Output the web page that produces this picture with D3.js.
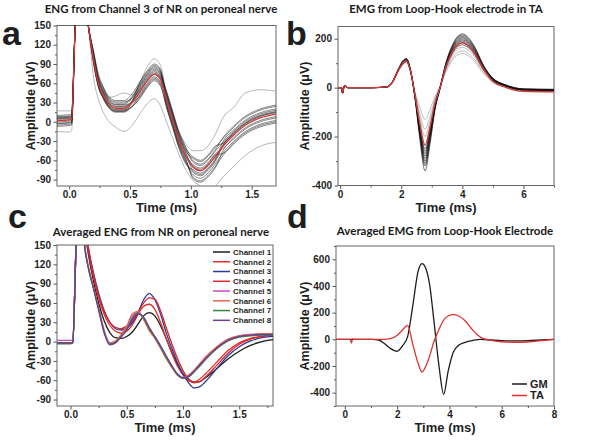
<!DOCTYPE html>
<html>
<head>
<meta charset="utf-8">
<script src="https://cdnjs.cloudflare.com/ajax/libs/d3/7.8.5/d3.min.js"></script>
<style>
  body { margin: 0; background: #fff; }
  svg text { font-family: "Liberation Sans", Arial, sans-serif; font-weight: bold; fill: #1e1e1e; }
  svg text.title { font-family: Lato, "Open Sans", sans-serif; font-size: 11.5px; font-weight: bold; fill: #1a1a1a; }
</style>
</head>
<body>
<svg id="fig" width="600" height="445"></svg>
<script>
// ---- panel a: single sweeps of channel 3 (ms, uV) ----
var timeA = [-0.1,0.0,0.02,0.05,0.1,0.157,0.2,0.24,0.28,0.32,0.38,0.45,0.52,0.58,0.64,0.7,0.75,0.8,0.85,0.9,0.96,1.02,1.08,1.14,1.2,1.27,1.35,1.45,1.57,1.7];
var meanA = [2,3,4,150,235,150,98,60,42,29,21,21,30,46,63,74,66,34,3,-28,-54,-71,-76,-68,-54,-37,-21,-5,6,12];
var sweepsA = [
  [8,9,10,150,235,150,106,68,50,37,29,29,40,58,75,86,78,44,13,-18,-44,-63,-68,-60,-46,-31,-15,1,12,18],
  [-3,-2,-1,150,235,150,94,56,38,25,17,17,24,38,55,66,58,24,-7,-38,-64,-83,-88,-80,-66,-47,-31,-15,-4,2],
  [4,5,6,150,235,150,110,72,54,41,33,33,44,62,79,90,82,39,8,-23,-49,-77,-82,-74,-60,-34,-18,-2,9,15],
  [0,1,2,150,235,150,92,54,36,23,15,15,25,42,59,70,62,42,11,-20,-46,-57,-62,-54,-40,-25,-9,7,18,24],
  [10,11,12,150,235,150,101,63,45,32,24,24,34,52,69,80,72,28,-3,-34,-60,-87,-92,-84,-70,-51,-35,-19,-8,-2],
  [-5,-4,-3,150,235,150,104,66,48,35,27,27,38,56,73,84,76,34,3,-28,-54,-67,-72,-64,-50,-41,-25,-9,2,8],
  [6,7,8,150,235,150,96,58,40,27,19,19,24,36,53,64,56,22,-9,-40,-66,-75,-80,-72,-58,-29,-13,3,14,20],
  [2,3,4,150,235,150,108,70,52,39,31,31,37,50,67,78,70,48,17,-14,-40,-61,-66,-58,-44,-23,-7,9,20,26],
  [-2,-1,0,150,235,150,95,57,39,26,18,18,33,60,77,88,80,30,-1,-32,-58,-89,-94,-86,-72,-43,-27,-11,0,6],
  [5,6,7,150,235,150,103,65,47,34,26,26,30,40,57,68,60,38,7,-24,-50,-69,-74,-66,-52,-49,-33,-17,-6,0],
  [-7,-6,-5,150,235,150,100,62,44,31,23,23,32,48,65,76,68,26,-5,-36,-62,-79,-84,-76,-62,-35,-19,-3,8,14],
  [7,8,9,150,235,150,93,55,37,24,16,16,31,54,71,82,74,46,15,-16,-42,-55,-60,-52,-38,-33,-17,-1,10,16]
];
var outliersA = [
  [17,17,18,150,235,150,110,75,55,38,40,45,42,60,85,98,88,45,12,-15,-35,-45,-45,-38,-20,8,22,45,50,48],
  [-15,-16,-14,150,235,150,70,35,15,2,-8,-15,-5,12,28,36,25,0,-25,-50,-75,-92,-100,-108,-100,-85,-70,-52,-38,-32]
];

// ---- panel b: EMG sweeps in TA ----
var timeB = [-0.07,0.05,0.08,0.11,0.15,0.25,1.0,1.5,1.7,1.9,2.05,2.17,2.3,2.45,2.6,2.78,2.95,3.1,3.27,3.45,3.65,3.85,4.0,4.2,4.4,4.7,5.0,5.4,6.0,7.0];
var meanB = [0,0,-22,-5,8,0,0,2,20,70,100,110,70,-30,-140,-235,-155,-65,0,80,140,175,183,170,140,75,25,2,-15,-17];
var sweepsB = [
  [0,0,-22,-5,8,0,0,2,20,72,105,115,72,-38,-179,-300,-198,-83,0,90,157,196,205,190,157,84,36,10,-7,-9],
  [0,0,-22,-5,8,0,0,2,21,74,108,118,74,-41,-191,-320,-211,-89,-3,94,164,206,215,200,164,88,35,8,-9,-11],
  [0,0,-22,-5,8,0,0,2,19,70,100,110,70,-36,-167,-280,-185,-77,2,85,149,187,195,181,149,80,37,12,-5,-7],
  [0,0,-22,-5,8,0,0,2,20,68,97,107,68,-33,-155,-260,-171,-72,0,87,153,191,200,186,153,82,32,7,-10,-12],
  [0,0,-22,-5,8,0,0,2,22,75,110,120,75,-43,-203,-340,-224,-94,-5,96,168,210,220,204,168,90,38,10,-7,-9],
  [0,0,-22,-5,8,0,0,2,20,71,102,112,71,-32,-149,-250,-165,-69,1,83,145,182,190,176,145,78,30,6,-11,-13],
  [0,0,-22,-5,8,0,0,2,21,72,104,114,72,-37,-173,-290,-191,-80,-1,92,161,201,210,195,161,86,39,12,-5,-7],
  [0,0,-22,-5,8,0,0,2,21,73,106,116,73,-40,-185,-310,-204,-86,-2,81,142,177,185,172,142,76,32,9,-8,-10],
  [0,0,-22,-5,8,0,0,2,20,70,100,110,70,-34,-161,-270,-178,-75,0,76,134,167,175,163,134,72,33,11,-6,-8]
];
var lightB = [
  [0,0,-22,-5,8,0,0,2,18,66,92,102,66,-17,-77,-130,-86,-36,5,61,107,134,140,130,107,57,22,5,-12,-14],
  [0,0,-22,-5,8,0,0,2,19,68,95,105,68,-22,-101,-170,-112,-47,3,66,115,144,150,139,115,62,26,8,-9,-11],
  [0,0,-22,-5,8,0,0,2,20,69,98,108,69,-26,-119,-200,-132,-55,2,72,126,158,165,153,126,68,28,7,-10,-12]
];

// ---- panel c: averaged ENG per channel ----
var timeC = [-0.12,0.0,0.02,0.05,0.09,0.125,0.155,0.2,0.25,0.3,0.35,0.4,0.45,0.5,0.55,0.6,0.65,0.7,0.75,0.8,0.85,0.9,0.95,1.0,1.05,1.1,1.15,1.2,1.3,1.4,1.5,1.6,1.7,1.8];
var channelNames = ["Channel 1","Channel 2","Channel 3","Channel 4","Channel 5","Channel 6","Channel 7","Channel 8"];
var channelColors = ["#1c1c1c","#e8302c","#2d3c9c","#d9262e","#c84ac8","#e8644c","#2f8a40","#6e3e96"];
var channelValues = [
  [-3,-3,-2,150,245,180,140,98,60,32,14,6,5,8,15,27,40,45,40,25,5,-16,-35,-50,-59,-63,-62,-56,-42,-27,-15,-6,0,3],
  [-2,-2,-1,150,245,185,145,104,68,42,25,16,13,16,26,42,55,58,50,30,5,-18,-38,-52,-61,-63,-58,-50,-32,-14,-2,5,8,10],
  [-2,-2,-1,150,245,190,150,110,75,48,30,20,18,21,29,45,65,75,65,43,14,-10,-32,-50,-64,-72,-70,-62,-42,-22,-8,1,6,8],
  [-2,-2,-1,150,245,190,150,108,72,46,30,22,20,24,32,45,60,68,66,48,22,-3,-26,-45,-58,-64,-62,-55,-37,-18,-4,4,8,10],
  [2,2,2,150,240,150,118,87,52,16,-3,0,9,21,39,46,36,19,6,-9,-25,-39,-52,-57,-53,-45,-35,-25,-9,3,9,11,12,12],
  [-2,-2,-1,150,240,152,120,88,53,17,-2,1,11,24,43,47,34,17,5,-10,-26,-40,-52,-56,-52,-44,-34,-24,-8,4,9,11,12,12],
  [-3,-3,-2,150,240,150,118,86,50,14,-4,-1,8,19,36,44,37,20,7,-8,-24,-38,-51,-57,-55,-47,-38,-28,-11,1,7,9,10,10],
  [-2,-2,-1,150,240,150,117,85,49,13,-5,-2,7,18,34,43,38,22,8,-6,-22,-37,-50,-56,-54,-46,-36,-27,-10,2,8,10,11,11]
];

// ---- panel d: averaged EMG, GM and TA ----
var timeD = [-0.34,0.2,0.25,0.3,0.35,1.0,1.3,1.5,1.75,2.0,2.2,2.4,2.6,2.8,2.95,3.1,3.25,3.4,3.6,3.78,3.95,4.15,4.35,4.6,4.9,5.2,5.6,6.0,6.5,7.0,7.5,8.0];
var gmValues = [0,0,0,0,0,0,-5,-30,-70,-90,-50,20,255,510,568,530,400,150,-200,-412,-240,-95,-45,-22,-8,0,-5,-10,-12,-10,-5,0];
var taValues = [0,0,-28,5,0,0,0,0,5,30,70,105,-40,-180,-245,-200,-120,-20,75,145,175,185,175,140,67,15,-8,-18,-22,-20,-10,0];
var emgNames = ["GM","TA"];
var emgColors = ["#1c1c1c","#e03030"];

var svg = d3.select("#fig");
svg.append("rect").attr("width", 600).attr("height", 445).attr("fill", "#fff");

function fmt(d) { return String(d); }
function fmt1(d) { return d.toFixed(1); }

// builds frame, ticks and labels; returns scales and a clipped group
function panel(o) {
  var g = svg.append("g").attr("transform", "translate(" + o.left + "," + o.top + ")");
  var x = d3.scaleLinear().domain(o.xDomain).range([0, o.width]);
  var y = d3.scaleLinear().domain(o.yDomain).range([o.height, 0]);

  g.append("clipPath").attr("id", "clip-" + o.name)
    .append("rect").attr("width", o.width).attr("height", o.height);

  // minor ticks
  g.append("g").attr("class", "minor")
    .attr("transform", "translate(0," + o.height + ")")
    .call(d3.axisBottom(x).tickValues(o.xMinor).tickSize(2).tickFormat(""));
  g.append("g").attr("class", "minor")
    .call(d3.axisLeft(y).tickValues(o.yMinor).tickSize(2).tickFormat(""));

  // major ticks
  g.append("g").attr("class", "major")
    .attr("transform", "translate(0," + o.height + ")")
    .call(d3.axisBottom(x).tickValues(o.xTicks).tickSize(3.5).tickPadding(1.5).tickFormat(o.xFormat));
  g.append("g").attr("class", "major")
    .call(d3.axisLeft(y).tickValues(o.yTicks).tickSize(3.5).tickPadding(2.5).tickFormat(fmt));

  g.selectAll(".domain").remove();
  g.selectAll(".tick line").attr("stroke", "#555");
  g.selectAll(".tick text").attr("font-size", 10).attr("fill", "#1e1e1e")
    .attr("font-family", "'Liberation Sans', Arial, sans-serif").attr("font-weight", "bold");

  g.append("rect").attr("width", o.width).attr("height", o.height)
    .attr("fill", "none").attr("stroke", "#666").attr("stroke-width", 1);

  var plot = g.append("g").attr("clip-path", "url(#clip-" + o.name + ")");

  // axis titles
  svg.append("text").attr("transform", "translate(" + o.yLabelX + "," + (o.top + o.height / 2) + ") rotate(-90)")
    .attr("text-anchor", "middle").attr("font-size", 12.5).text("Amplitude (\u03bcV)");
  svg.append("text").attr("x", o.left + o.width / 2).attr("y", o.top + o.height + 26.3)
    .attr("text-anchor", "middle").attr("font-size", 13).text("Time (ms)");
  svg.append("text").attr("class", "title").attr("x", o.titleX).attr("y", o.titleY)
    .attr("text-anchor", "middle").text(o.title);
  svg.append("text").attr("x", o.letterX).attr("y", o.letterY)
    .attr("font-size", 34).attr("fill", "#111").text(o.letter);

  var line = d3.line()
    .x(function(d) { return x(d[0]); })
    .y(function(d) { return y(d[1]); })
    .curve(d3.curveMonotoneX);

  return { plot: plot, x: x, y: y, line: line };
}

function draw(p, times, values, color, width, opacity) {
  p.plot.append("path")
    .datum(d3.zip(times, values))
    .attr("d", p.line)
    .attr("fill", "none")
    .attr("stroke", color)
    .attr("stroke-width", width)
    .attr("stroke-opacity", opacity)
    .attr("stroke-linejoin", "round");
}

// ---------- a ----------
var pa = panel({
  name: "a", left: 57, top: 25.5, width: 219, height: 160.5,
  xDomain: [-0.1, 1.7], yDomain: [-100, 150],
  xTicks: [0, 0.5, 1.0, 1.5], xMinor: [0.25, 0.75, 1.25],
  yTicks: [-90, -60, -30, 0, 30, 60, 90, 120, 150], yMinor: [-75, -45, -15, 15, 45, 75, 105, 135],
  xFormat: fmt1, yLabelX: 35, title: "ENG from Channel 3 of NR on peroneal nerve",
  titleX: 161, titleY: 13, letter: "a", letterX: 2, letterY: 45
});
outliersA.forEach(function(v) { draw(pa, timeA, v, "#8c8c8c", 0.7, 0.9); });
sweepsA.forEach(function(v) { draw(pa, timeA, v, "#1a1a1a", 0.75, 0.7); });
draw(pa, timeA, meanA, "#d03a3a", 1.4, 1);

// ---------- b ----------
var pb = panel({
  name: "b", left: 338, top: 26.5, width: 216, height: 159,
  xDomain: [-0.07, 7], yDomain: [-400, 250],
  xTicks: [0, 2, 4, 6], xMinor: [1, 3, 5, 7],
  yTicks: [-400, -200, 0, 200], yMinor: [-300, -100, 100],
  xFormat: fmt, yLabelX: 309, title: "EMG from Loop-Hook electrode in TA",
  titleX: 446, titleY: 13, letter: "b", letterX: 286, letterY: 45
});
lightB.forEach(function(v) { draw(pb, timeB, v, "#9a9a9a", 0.7, 0.9); });
sweepsB.forEach(function(v) { draw(pb, timeB, v, "#111", 0.8, 0.75); });
draw(pb, timeB, meanB, "#d03a3a", 1.4, 1);

// ---------- c ----------
var pc = panel({
  name: "c", left: 57, top: 245, width: 216, height: 161,
  xDomain: [-0.12, 1.8], yDomain: [-100, 150],
  xTicks: [0, 0.5, 1.0, 1.5], xMinor: [0.25, 0.75, 1.25, 1.75],
  yTicks: [-90, -60, -30, 0, 30, 60, 90, 120, 150], yMinor: [-75, -45, -15, 15, 45, 75, 105, 135],
  xFormat: fmt1, yLabelX: 35, title: "Averaged ENG from NR on peroneal nerve",
  titleX: 161, titleY: 236, letter: "c", letterX: 8, letterY: 228
});
channelValues.forEach(function(v, i) { draw(pc, timeC, v, channelColors[i], 1.3, 1); });

var legC = svg.append("g").attr("transform", "translate(213,252)");
channelNames.forEach(function(name, i) {
  var row = legC.append("g").attr("transform", "translate(0," + (i * 9.76) + ")");
  row.append("line").attr("x1", 0).attr("x2", 17).attr("stroke", channelColors[i]).attr("stroke-width", 1.5);
  row.append("text").attr("x", 20).attr("dy", "0.35em").attr("font-size", 8).text(name);
});

// ---------- d ----------
var pd = panel({
  name: "d", left: 336, top: 246, width: 218, height: 160,
  xDomain: [-0.34, 8], yDomain: [-500, 700],
  xTicks: [0, 2, 4, 6, 8], xMinor: [1, 3, 5, 7],
  yTicks: [-400, -200, 0, 200, 400, 600], yMinor: [-500, -300, -100, 100, 300, 500, 700],
  xFormat: fmt, yLabelX: 309, title: "Averaged EMG from Loop-Hook Electrode",
  titleX: 445, titleY: 235, letter: "d", letterX: 287, letterY: 228
});
draw(pd, timeD, gmValues, emgColors[0], 1.3, 1);
draw(pd, timeD, taValues, emgColors[1], 1.3, 1);

var legD = svg.append("g").attr("transform", "translate(512,384)");
emgNames.forEach(function(name, i) {
  var row = legD.append("g").attr("transform", "translate(0," + (i * 11.5) + ")");
  row.append("line").attr("x1", 0).attr("x2", 15).attr("stroke", emgColors[i]).attr("stroke-width", 1.5);
  row.append("text").attr("x", 18).attr("dy", "0.35em").attr("font-size", 11).text(name);
});
</script>
</body>
</html>
